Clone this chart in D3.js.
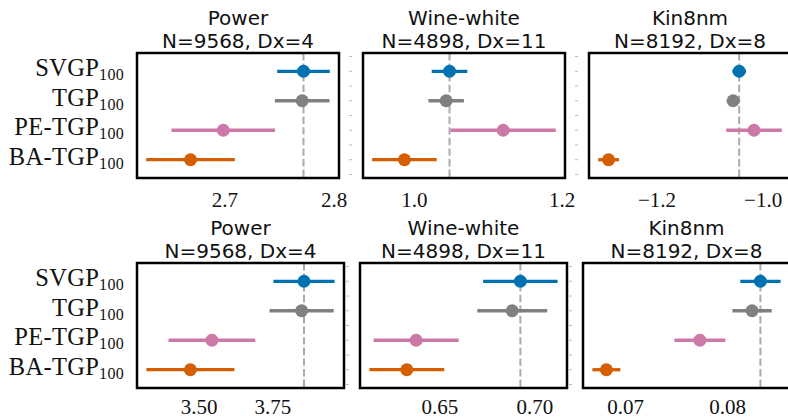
<html>
<head>
    <meta charset="utf-8">
    <title>Method comparison</title>
    <script src="https://d3js.org/d3.v7.min.js"></script>
    <style>
        body { margin: 0; background: #fff; }
        .title { font-family: "DejaVu Sans", sans-serif; font-size: 20px; fill: #111; }
        .ylab { font-family: "Liberation Serif", serif; font-size: 24.5px; letter-spacing: 0.3px; fill: #111; }
        .tick text { font-family: "Liberation Serif", serif; font-size: 21px; fill: #111; }
    </style>
</head>
<body>
<svg id="chart"></svg>
<script>
// methods, top to bottom
var methods = ["SVGP", "TGP", "PE-TGP", "BA-TGP"];
var colors = ["#0072B2", "#808080", "#CC79A7", "#D55E00"];

var datasets = ["Power", "Wine-white", "Kin8nm"];
var subtitles = ["N=9568, Dx=4", "N=4898, Dx=11", "N=8192, Dx=8"];

// top row (means and half widths)
var powerTopMean = [2.7725, 2.7713, 2.699, 2.669];
var powerTopErr = [0.0241, 0.025, 0.0474, 0.0406];
var wineTopMean = [1.0483, 1.0437, 1.121, 0.9872];
var wineTopErr = [0.0241, 0.0241, 0.0713, 0.0437];
var kinTopMean = [-1.0442, -1.0556, -1.0162, -1.2905];
var kinTopErr = [0.0128, 0.012, 0.0524, 0.0196];

// bottom row
var powerBotMean = [3.857, 3.849, 3.545, 3.472];
var powerBotErr = [0.1037, 0.1088, 0.147, 0.149];
var wineBotMean = [0.6926, 0.6883, 0.6377, 0.6328];
var wineBotErr = [0.0196, 0.0184, 0.0224, 0.0197];
var kinBotMean = [0.08327, 0.08245, 0.07733, 0.06815];
var kinBotErr = [0.00198, 0.00193, 0.0025, 0.00137];

// tick values
var powerTopTicks = [2.7, 2.8];
var wineTopTicks = [1.0, 1.2];
var kinTopTicks = [-1.2, -1.0];
var powerBotTicks = [3.50, 3.75];
var wineBotTicks = [0.65, 0.70];
var kinBotTicks = [0.07, 0.08];

var W = 788, H = 419;
var svg = d3.select("#chart").attr("width", W).attr("height", H);

var rows = [
    { top: 53, h: 125, w: 202, lefts: [137, 363, 589], labY: 29,
      means: [powerTopMean, wineTopMean, kinTopMean],
      errs: [powerTopErr, wineTopErr, kinTopErr],
      ticks: [powerTopTicks, wineTopTicks, kinTopTicks], fmt: ".1f" },
    { top: 263, h: 125, w: 207, lefts: [137, 360, 583], labY: 26,
      means: [powerBotMean, wineBotMean, kinBotMean],
      errs: [powerBotErr, wineBotErr, kinBotErr],
      ticks: [powerBotTicks, wineBotTicks, kinBotTicks], fmt: ".2f" }
];

rows.forEach(function (row) {
    var y = d3.scaleLinear().domain([-0.62, 3.62]).range([0, row.h]);
    datasets.forEach(function (name, j) {
        var mean = row.means[j], err = row.errs[j];
        var lo = d3.min(mean, function (m, i) { return m - err[i]; });
        var hi = d3.max(mean, function (m, i) { return m + err[i]; });
        var pad = (hi - lo) * 0.05;
        var x = d3.scaleLinear().domain([lo - pad, hi + pad]).range([0, row.w]);

        var g = svg.append("g")
            .attr("transform", "translate(" + row.lefts[j] + "," + row.top + ")");

        // faint y ticks left of the frame (hidden behind labels on first column)
        if (j > 0) {
            g.selectAll(".yt")
                .data(d3.range(-0.5, 3.51, 0.5))
                .enter().append("line")
                .attr("x1", -14).attr("x2", -11)
                .attr("y1", function (d) { return y(d); })
                .attr("y2", function (d) { return y(d); })
                .attr("stroke", "#bbb").attr("stroke-width", 1);
        }

        // reference line at SVGP mean
        g.append("line")
            .attr("x1", x(mean[0])).attr("x2", x(mean[0]))
            .attr("y1", 0).attr("y2", row.h)
            .attr("stroke", "#aaa").attr("stroke-width", 2)
            .attr("stroke-dasharray", "7.4,3.2");

        g.selectAll(".bar")
            .data(mean)
            .enter().append("line")
            .attr("x1", function (d, i) { return x(d - err[i]); })
            .attr("x2", function (d, i) { return x(d + err[i]); })
            .attr("y1", function (d, i) { return y(i); })
            .attr("y2", function (d, i) { return y(i); })
            .attr("stroke", function (d, i) { return colors[i]; })
            .attr("stroke-width", 3.3);

        g.selectAll(".dot")
            .data(mean)
            .enter().append("circle")
            .attr("cx", function (d) { return x(d); })
            .attr("cy", function (d, i) { return y(i); })
            .attr("r", 6.5)
            .attr("fill", function (d, i) { return colors[i]; });

        g.append("rect")
            .attr("width", row.w).attr("height", row.h)
            .attr("fill", "none").attr("stroke", "#000").attr("stroke-width", 2.5);

        var f = d3.format(row.fmt);
        var ax = g.append("g")
            .attr("transform", "translate(0," + row.h + ")")
            .call(d3.axisBottom(x).tickValues(row.ticks[j]).tickSize(0).tickPadding(0)
                .tickFormat(function (d) { return f(d).replace("-", "\u2212"); }));
        ax.select(".domain").remove();
        ax.selectAll("text").attr("dy", "0").attr("y", row.labY);

        var t = g.append("text").attr("class", "title").attr("text-anchor", "middle");
        t.append("tspan").attr("x", row.w / 2).attr("y", -28).text(name);
        t.append("tspan").attr("x", row.w / 2).attr("y", -5).text(subtitles[j]);

        if (j === 0) {
            methods.forEach(function (m, i) {
                var lab = g.append("text").attr("class", "ylab")
                    .attr("text-anchor", "end")
                    .attr("x", -13).attr("y", y(i) + 5);
                lab.append("tspan").text(m);
                lab.append("tspan").attr("dy", 4).attr("font-size", 16).text("100");
            });
        }
    });
});
</script>
</body>
</html>
